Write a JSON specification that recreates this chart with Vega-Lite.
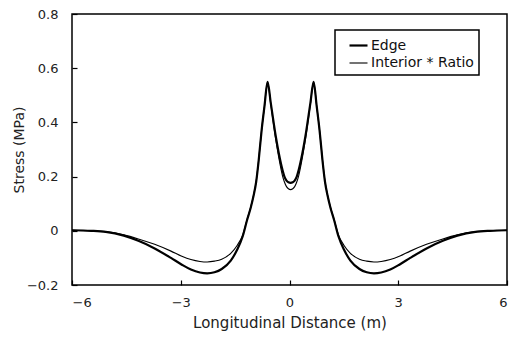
{
  "$schema": "https://vega.github.io/schema/vega-lite/v6.json",
  "width": 435,
  "height": 271,
  "autosize": {"type": "none"},
  "padding": {"left": 72, "top": 14, "right": 9, "bottom": 60},
  "background": "white",
  "data": {"values": [
    {"s":"Edge","x":-6,"y":0.002},{"s":"Edge","x":-5.47,"y":0},{"s":"Edge","x":-5.07,"y":-0.004},{"s":"Edge","x":-4.57,"y":-0.018},{"s":"Edge","x":-4.17,"y":-0.037},{"s":"Edge","x":-3.72,"y":-0.065},{"s":"Edge","x":-3.27,"y":-0.1},{"s":"Edge","x":-2.97,"y":-0.125},{"s":"Edge","x":-2.72,"y":-0.143},{"s":"Edge","x":-2.47,"y":-0.154},{"s":"Edge","x":-2.27,"y":-0.157},{"s":"Edge","x":-2.07,"y":-0.153},{"s":"Edge","x":-1.87,"y":-0.141},{"s":"Edge","x":-1.62,"y":-0.11},{"s":"Edge","x":-1.445,"y":-0.07},{"s":"Edge","x":-1.29,"y":-0.02},{"s":"Edge","x":-1.17,"y":0.04},{"s":"Edge","x":-1.07,"y":0.085},{"s":"Edge","x":-0.99,"y":0.13},{"s":"Edge","x":-0.92,"y":0.18},{"s":"Edge","x":-0.85,"y":0.26},{"s":"Edge","x":-0.77,"y":0.37},{"s":"Edge","x":-0.69,"y":0.46},{"s":"Edge","x":-0.605,"y":0.55},{"s":"Edge","x":-0.515,"y":0.47},{"s":"Edge","x":-0.377,"y":0.347},{"s":"Edge","x":-0.295,"y":0.286},{"s":"Edge","x":-0.193,"y":0.224},{"s":"Edge","x":-0.14,"y":0.2},{"s":"Edge","x":-0.083,"y":0.185},{"s":"Edge","x":-0.03,"y":0.179},
    {"s":"Edge","x":0.03,"y":0.177},
    {"s":"Edge","x":0.09,"y":0.179},{"s":"Edge","x":0.143,"y":0.185},{"s":"Edge","x":0.2,"y":0.2},{"s":"Edge","x":0.253,"y":0.224},{"s":"Edge","x":0.355,"y":0.286},{"s":"Edge","x":0.437,"y":0.347},{"s":"Edge","x":0.575,"y":0.47},{"s":"Edge","x":0.665,"y":0.55},{"s":"Edge","x":0.75,"y":0.46},{"s":"Edge","x":0.83,"y":0.37},{"s":"Edge","x":0.91,"y":0.26},{"s":"Edge","x":0.98,"y":0.18},{"s":"Edge","x":1.05,"y":0.13},{"s":"Edge","x":1.13,"y":0.085},{"s":"Edge","x":1.23,"y":0.04},{"s":"Edge","x":1.35,"y":-0.02},{"s":"Edge","x":1.505,"y":-0.07},{"s":"Edge","x":1.68,"y":-0.11},{"s":"Edge","x":1.93,"y":-0.141},{"s":"Edge","x":2.13,"y":-0.153},{"s":"Edge","x":2.33,"y":-0.157},{"s":"Edge","x":2.53,"y":-0.154},{"s":"Edge","x":2.78,"y":-0.143},{"s":"Edge","x":3.03,"y":-0.125},{"s":"Edge","x":3.33,"y":-0.1},{"s":"Edge","x":3.78,"y":-0.065},{"s":"Edge","x":4.23,"y":-0.037},{"s":"Edge","x":4.63,"y":-0.018},{"s":"Edge","x":5.13,"y":-0.004},{"s":"Edge","x":5.53,"y":0},{"s":"Edge","x":6,"y":0.002},

    {"s":"Interior * Ratio","x":-6,"y":0.002},{"s":"Interior * Ratio","x":-5.47,"y":0},{"s":"Interior * Ratio","x":-5.07,"y":-0.003},{"s":"Interior * Ratio","x":-4.57,"y":-0.015},{"s":"Interior * Ratio","x":-4.17,"y":-0.03},{"s":"Interior * Ratio","x":-3.72,"y":-0.05},{"s":"Interior * Ratio","x":-3.27,"y":-0.075},{"s":"Interior * Ratio","x":-2.97,"y":-0.094},{"s":"Interior * Ratio","x":-2.72,"y":-0.106},{"s":"Interior * Ratio","x":-2.47,"y":-0.113},{"s":"Interior * Ratio","x":-2.27,"y":-0.115},{"s":"Interior * Ratio","x":-2.07,"y":-0.112},{"s":"Interior * Ratio","x":-1.87,"y":-0.105},{"s":"Interior * Ratio","x":-1.62,"y":-0.083},{"s":"Interior * Ratio","x":-1.445,"y":-0.054},{"s":"Interior * Ratio","x":-1.29,"y":-0.015},{"s":"Interior * Ratio","x":-1.17,"y":0.042},{"s":"Interior * Ratio","x":-1.07,"y":0.087},{"s":"Interior * Ratio","x":-0.99,"y":0.132},{"s":"Interior * Ratio","x":-0.92,"y":0.182},{"s":"Interior * Ratio","x":-0.85,"y":0.262},{"s":"Interior * Ratio","x":-0.77,"y":0.37},{"s":"Interior * Ratio","x":-0.69,"y":0.46},{"s":"Interior * Ratio","x":-0.605,"y":0.55},{"s":"Interior * Ratio","x":-0.515,"y":0.465},{"s":"Interior * Ratio","x":-0.377,"y":0.335},{"s":"Interior * Ratio","x":-0.295,"y":0.27},{"s":"Interior * Ratio","x":-0.193,"y":0.203},{"s":"Interior * Ratio","x":-0.14,"y":0.18},{"s":"Interior * Ratio","x":-0.083,"y":0.163},{"s":"Interior * Ratio","x":-0.03,"y":0.155},
    {"s":"Interior * Ratio","x":0.03,"y":0.152},
    {"s":"Interior * Ratio","x":0.09,"y":0.155},{"s":"Interior * Ratio","x":0.143,"y":0.163},{"s":"Interior * Ratio","x":0.2,"y":0.18},{"s":"Interior * Ratio","x":0.253,"y":0.203},{"s":"Interior * Ratio","x":0.355,"y":0.27},{"s":"Interior * Ratio","x":0.437,"y":0.335},{"s":"Interior * Ratio","x":0.575,"y":0.465},{"s":"Interior * Ratio","x":0.665,"y":0.55},{"s":"Interior * Ratio","x":0.75,"y":0.46},{"s":"Interior * Ratio","x":0.83,"y":0.37},{"s":"Interior * Ratio","x":0.91,"y":0.262},{"s":"Interior * Ratio","x":0.98,"y":0.182},{"s":"Interior * Ratio","x":1.05,"y":0.132},{"s":"Interior * Ratio","x":1.13,"y":0.087},{"s":"Interior * Ratio","x":1.23,"y":0.042},{"s":"Interior * Ratio","x":1.35,"y":-0.015},{"s":"Interior * Ratio","x":1.505,"y":-0.054},{"s":"Interior * Ratio","x":1.68,"y":-0.083},{"s":"Interior * Ratio","x":1.93,"y":-0.105},{"s":"Interior * Ratio","x":2.13,"y":-0.112},{"s":"Interior * Ratio","x":2.33,"y":-0.115},{"s":"Interior * Ratio","x":2.53,"y":-0.113},{"s":"Interior * Ratio","x":2.78,"y":-0.106},{"s":"Interior * Ratio","x":3.03,"y":-0.094},{"s":"Interior * Ratio","x":3.33,"y":-0.075},{"s":"Interior * Ratio","x":3.78,"y":-0.05},{"s":"Interior * Ratio","x":4.23,"y":-0.03},{"s":"Interior * Ratio","x":4.63,"y":-0.015},{"s":"Interior * Ratio","x":5.13,"y":-0.003},{"s":"Interior * Ratio","x":5.53,"y":0},{"s":"Interior * Ratio","x":6,"y":0.002}
  ]},
  "mark": {"type": "line", "interpolate": "monotone", "clip": true},
  "encoding": {
    "x": {"field": "x", "type": "quantitative",
      "scale": {"domain": [-6, 6], "nice": false, "zero": false},
      "axis": {"values": [-6, -3, 0, 3, 6], "format": "d", "title": "Longitudinal Distance (m)", "titleFontSize": 15, "labelPadding": 16, "titlePadding": 6}},
    "y": {"field": "y", "type": "quantitative",
      "scale": {"domain": [-0.2, 0.8], "nice": false, "zero": false},
      "axis": {"values": [-0.2, 0, 0.2, 0.4, 0.6, 0.8], "labelExpr": "format(datum.value, '~g')", "title": "Stress (MPa)", "titleFontSize": 14, "labelPadding": 19, "titlePadding": 0}},
    "color": {"field": "s", "type": "nominal",
      "scale": {"domain": ["Edge", "Interior * Ratio"], "range": ["#000000", "#000000"]},
      "legend": {"title": null, "orient": "none", "legendX": 263, "legendY": 16}},
    "strokeWidth": {"field": "s", "type": "nominal",
      "scale": {"domain": ["Edge", "Interior * Ratio"], "range": [2.2, 1.1]},
      "legend": {"title": null, "orient": "none", "legendX": 263, "legendY": 16}}
  },
  "config": {
    "view": {"stroke": "#000000", "strokeWidth": 1.5},
    "axis": {"grid": false, "domain": false, "tickColor": "#000000", "tickSize": -5, "tickWidth": 1.2,
      "labelFont": "DejaVu Sans", "labelFontSize": 13, "labelColor": "#222222",
      "titleFont": "DejaVu Sans", "titleFontWeight": "normal", "titleColor": "#222222"},
    "legend": {"strokeColor": "#000000", "strokeWidth": 1.5, "fillColor": "white", "padding": 5, "symbolOffset": 8,
      "symbolType": "stroke", "symbolSize": 324, "labelOffset": 2, "rowPadding": -1,
      "labelFont": "DejaVu Sans", "labelFontSize": 14, "labelColor": "#111111"}
  }
}
